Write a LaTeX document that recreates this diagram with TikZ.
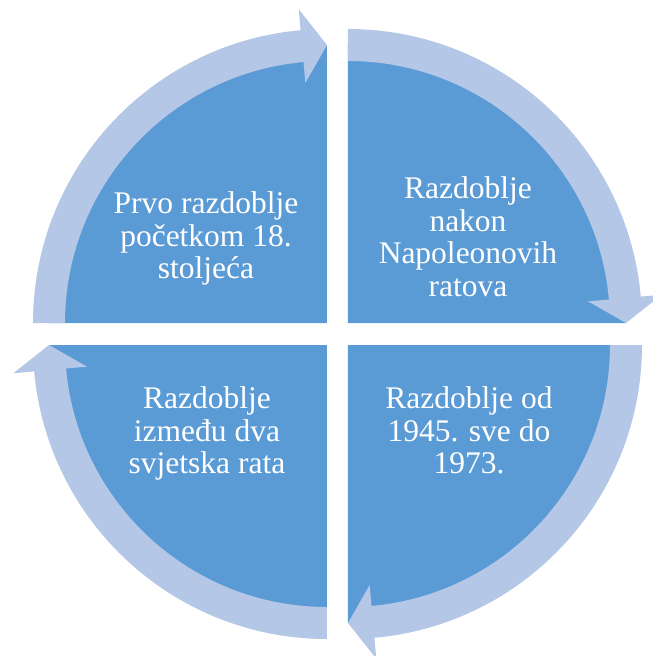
\documentclass[tikz,border=0pt]{standalone}
\usepackage{fontspec}
\setmainfont{Liberation Serif}
\definecolor{segment}{HTML}{5B9BD5}
\definecolor{cyclearrow}{HTML}{B4C7E7}

\begin{document}
\begin{tikzpicture}[x=1pt,y=1pt,
% white period labels
period/.style={text=white, align=center, inner sep=0pt, anchor=north,
  font=\fontsize{31.5}{32.7}\selectfont}]
\useasboundingbox (-337.5,-322) rectangle (315.5,334);
% quarter segments (partly under the arrows)
\foreach \cx/\cy/\a in {-10.5/11/180, 10.5/11/90, 10.5/-11/0, -10.5/-11/-90} {
    \fill[segment] (\cx,\cy) -- ++(\a:278)
        arc[start angle=\a, end angle=\a-90, radius=278] -- cycle;
}
% circular arrows (clockwise)
\foreach \cx/\cy/\a in {-10.5/11/180, 10.5/11/90, 10.5/-11/0, -10.5/-11/-90} {
    \fill[cyclearrow, shift={(\cx,\cy)}] (\a:262) -- (\a:294)
        arc[start angle=\a, end angle=\a-84.85, radius=294]
        -- (\a-84.85:315) -- (\a-90:278) -- (\a-84.85:241) -- (\a-84.85:262)
        arc[start angle=\a-84.85, end angle=\a, radius=262] -- cycle;
}
% annotations
\node[period] (prvo) at (-131.5,142.5) {Prvo razdoblje\\početkom 18.\\stoljeća};
\node[period] (nakon) at (130.5,157.5) {Razdoblje\\nakon\\Napoleonovih\\ratova};
\node[period] (izmedu) at (-130.5,-52.5) {Razdoblje\\između dva\\svjetska rata};
\node[period] (od1945) at (131.5,-52.5) {Razdoblje od\\1945. sve do\\1973.};
\end{tikzpicture}
\end{document}
